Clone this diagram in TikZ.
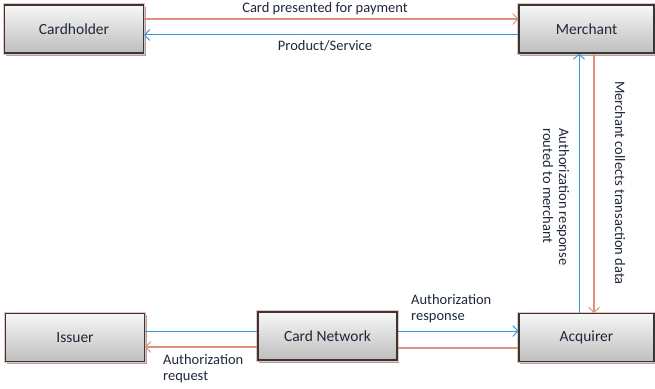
\documentclass[tikz,border=0pt]{standalone}
\usepackage{fontspec}
\setmainfont{Carlito}
\usetikzlibrary{arrows.meta,calc,backgrounds}
\definecolor{pk}{RGB}{222,145,125}
\definecolor{bl}{RGB}{60,150,220}
\definecolor{txt}{RGB}{30,40,55}
\definecolor{bord}{RGB}{55,55,55}
\definecolor{boxtop}{RGB}{246,246,246}
\definecolor{boxbot}{RGB}{192,192,192}
\definecolor{shad}{RGB}{165,165,165}
\tikzset{
  box/.style={rectangle, draw=bord, line width=1.1pt,
    minimum width=139pt, minimum height=48pt, text=txt, font=\fontsize{15.5}{18}\selectfont},
  halo/.style={draw=pk!55, line width=2.6pt},
  shadowbox/.style={fill=shad},
  pkline/.style={draw=pk, line width=1.4pt},
  blline/.style={draw=bl, line width=1pt},
  tip/.style={-{Straight Barb[length=5pt,width=11pt,line width=1pt]}},
  lbl/.style={text=txt, font=\fontsize{14.5}{16}\selectfont, inner sep=0pt}
}
\begin{document}
\begin{tikzpicture}[x=1pt,y=1pt]
\useasboundingbox (0,0) rectangle (655,388);
\node[box] (ch) at (74,359) {Cardholder};
\node[box, minimum width=135pt] (m) at (586.5,359) {Merchant};
\node[box] (iss) at (75,50.5) {Issuer};
\node[box] (cn) at (327.5,52) {Card Network};
\node[box, minimum width=135pt] (acq) at (586.5,50.5) {Acquirer};
\begin{scope}[on background layer]
  \foreach \b in {ch,m,iss,cn,acq}{
    \fill[shadowbox] ([shift={(1.8pt,-2.2pt)}]\b.south west) rectangle ([shift={(1.8pt,-2.2pt)}]\b.north east);
    \foreach \i [evaluate=\i as \p using {100-\i*100/15}] in {0,...,15}{
      \fill[boxtop!\p!boxbot]
        ($(\b.north west)!{\i/16}!(\b.south west)$) rectangle
        ($(\b.north east)!{min(1,(\i+1.2)/16)}!(\b.south east)$);
    }
    \draw[halo] (\b.south west) rectangle (\b.north east);
  }
\end{scope}
% top connectors
\draw[pkline,tip] ([yshift=10pt]ch.east) -- ([yshift=10pt]ch.east -| m.west);
\draw[blline,tip] ([yshift=-6pt]m.west) -- ([yshift=-6pt]m.west -| ch.east);
% vertical connectors
\draw[blline,tip] ([xshift=-7.5pt]acq.north) -- ([xshift=-7.5pt]acq.north |- m.south);
\draw[pkline,tip] ([xshift=7.5pt]m.south) -- ([xshift=7.5pt]m.south |- acq.north);
% bottom connectors
\draw[blline] ([yshift=6.5pt]iss.east) -- ([yshift=6.5pt]iss.east -| cn.west);
\draw[pkline,tip] ([yshift=-9.5pt]iss.east -| cn.west) -- ([yshift=-9.5pt]iss.east);
\draw[blline,tip] ([yshift=6.5pt]iss.east -| cn.east) -- ([yshift=6.5pt]iss.east -| acq.west);
\draw[pkline] ([yshift=-10.5pt]iss.east -| acq.west) -- ([yshift=-10.5pt]iss.east -| cn.east);
% labels
\node[lbl] (l1) at (325,379) {Card presented for payment};
\node[lbl] (l2) at (325,342) {Product/Service};
\node[lbl, rotate=-90] (l3) at (620,205) {Merchant collects transaction data};
\node[lbl, rotate=-90, align=left] (l4) at (556,191) {Authorization response\\routed to merchant};
\node[lbl, anchor=north west, align=left] (l5) at (411,94) {Authorization\\response};
\node[lbl, anchor=north west, align=left] (l6) at (163,34) {Authorization\\request};
\end{tikzpicture}
\end{document}
